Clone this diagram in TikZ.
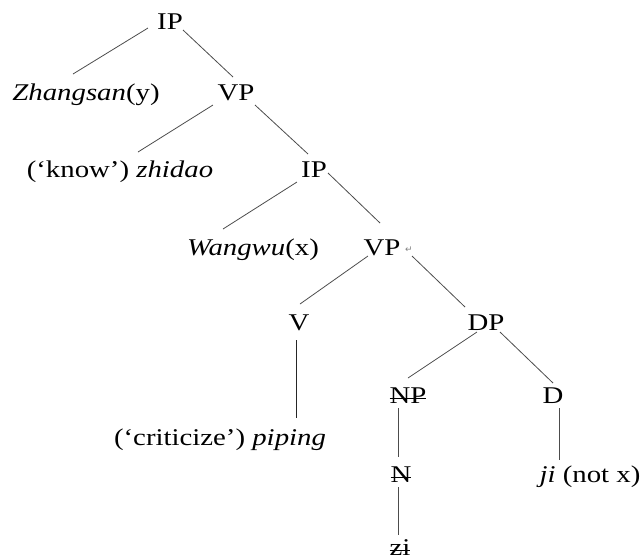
\documentclass[tikz,border=0pt]{standalone}
\usepackage{fontspec}
\setmainfont[FakeStretch=1.2]{Liberation Serif}
\newfontfamily\symfont{DejaVu Sans}
\newcommand\strk[1]{\setbox0\hbox{#1}\rlap{\usebox0}\rule[0.17em]{\wd0}{0.045em}}
\begin{document}
\begin{tikzpicture}[x=1pt,y=-1pt,
  lbl/.style={inner sep=0pt,anchor=base,font=\fontsize{24}{28}\selectfont},
  br/.style={draw=black!70,line width=0.8pt}]
\useasboundingbox (0,0) rectangle (643,558);
\node[lbl] (IP1) at (170,29) {IP};
\node[lbl] (Zh) at (86,100) {\textit{Zhangsan}(y)};
\node[lbl] (VP1) at (236,100) {VP};
\node[lbl] (know) at (120,177) {(‘know’) \textit{zhidao}};
\node[lbl] (IP2) at (314,177) {IP};
\node[lbl] (Ww) at (253,255) {\textit{Wangwu}(x)};
\node[lbl] (VP2) at (382,255) {VP};
\node[inner sep=0pt,text=black!50,font=\symfont\fontsize{9}{10}\selectfont] (ret) at (409,250) {↵};
\node[lbl] (V) at (299,330) {V};
\node[lbl] (DP) at (486,330) {DP};
\node[lbl] (pip) at (220,445) {(‘criticize’) \textit{piping}};
\node[lbl] (NP) at (408,403) {\strk{NP}};
\node[lbl] (D) at (553,403) {D};
\node[lbl] (N) at (401,482) {\strk{N}};
\node[lbl] (ji) at (590,482) {\textit{ji} (not x)};
\node[lbl] (zi) at (400,555.5) {\strk{zi}};
\draw[br] ([shift={(-22,-1)}]IP1.base) -- ([shift={(-13,-26)}]Zh.base);
\draw[br] ([shift={(13,1)}]IP1.base) -- ([shift={(-3,-23)}]VP1.base);
\draw[br] ([shift={(-23,5)}]VP1.base) -- ([shift={(18,-25)}]know.base);
\draw[br] ([shift={(19,5)}]VP1.base) -- ([shift={(-6,-23)}]IP2.base);
\draw[br] ([shift={(-17,5)}]IP2.base) -- ([shift={(-30,-26)}]Ww.base);
\draw[br] ([shift={(14,-4)}]IP2.base) -- ([shift={(-2,-32)}]VP2.base);
\draw[br] ([shift={(-14,1)}]VP2.base) -- ([shift={(1,-26)}]V.base);
\draw[br] ([shift={(30,1)}]VP2.base) -- ([shift={(-21,-23)}]DP.base);
\draw[br,draw=black!85] ([shift={(-3,10)}]V.base) -- ([shift={(76,-27)}]pip.base);
\draw[br] ([shift={(-9,2)}]DP.base) -- ([shift={(0,-25)}]NP.base);
\draw[br] ([shift={(14,2)}]DP.base) -- ([shift={(0,-20)}]D.base);
\draw[br] ([shift={(-10,5)}]NP.base) -- ([shift={(-3,-25)}]N.base);
\draw[br] ([shift={(6,5)}]D.base) -- ([shift={(-31,-22)}]ji.base);
\draw[br] ([shift={(-3,5)}]N.base) -- ([shift={(-2,-20.5)}]zi.base);
\end{tikzpicture}
\end{document}
